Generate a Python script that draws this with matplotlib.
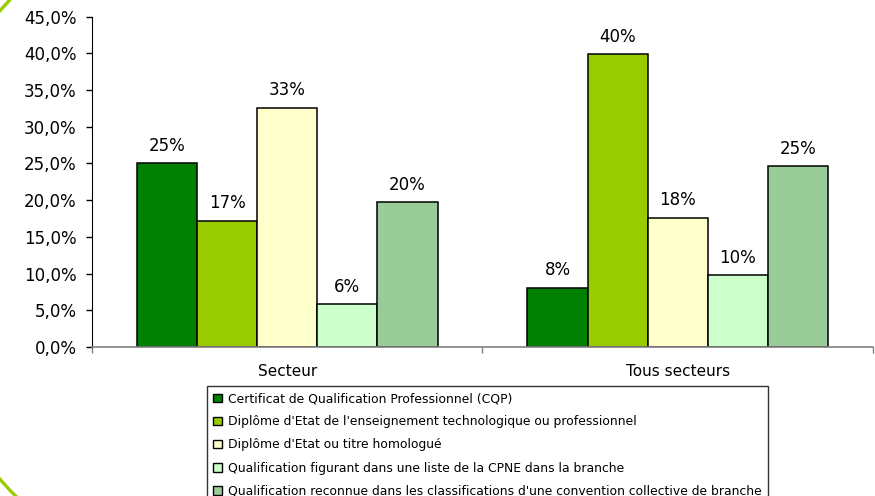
import matplotlib.pyplot as plt
import numpy as np
from matplotlib.patches import Arc, Patch

plt.rcParams.update({'font.family': 'DejaVu Sans', 'font.size': 12})

categories = ['Secteur', 'Tous secteurs']
series = [
    'Certificat de Qualification Professionnel (CQP)',
    "Diplôme d'Etat de l'enseignement technologique ou professionnel",
    "Diplôme d'Etat ou titre homologué",
    'Qualification figurant dans une liste de la CPNE dans la branche',
    "Qualification reconnue dans les classifications d'une convention collective de branche",
]
secteur = [25.0, 17.2, 32.6, 5.8, 19.7]
tous_secteurs = [8.1, 39.9, 17.6, 9.8, 24.6]
colors = ['#008000', '#99cc00', '#ffffcc', '#ccffcc', '#99cc99']
y_ticks = [0, 5, 10, 15, 20, 25, 30, 35, 40, 45]


def pct_label(v, decimals=0):
    return f'{v:.{decimals}f}%'.replace('.', ',')


fig = plt.figure(figsize=(8.75, 4.96), dpi=100)

# decorative green arc along the left edge of the slide
bg = fig.add_axes([0, 0, 1, 1], zorder=-1)
bg.set_xlim(0, 875)
bg.set_ylim(496, 0)
bg.axis('off')
bg.add_patch(Arc((268, 245), 712, 712, theta1=128, theta2=232,
                 color='#99cc00', lw=2.4))

ax = fig.add_axes([0.1051, 0.3004, 0.8926, 0.666])

values = np.array([secteur, tous_secteurs])
n = len(series)
group_w = 0.77
bar_w = group_w / n
x = np.arange(len(categories))
for i, name in enumerate(series):
    pos = x - group_w / 2 + bar_w * (i + 0.5)
    bars = ax.bar(pos, values[:, i], bar_w, color=colors[i],
                  edgecolor='black', linewidth=1.1, label=name)
    ax.bar_label(bars, labels=[pct_label(v) for v in values[:, i]],
                 padding=6, fontsize=12)

ax.set_xlim(-0.5, len(categories) - 0.5)
ax.set_ylim(0, 45)
ax.set_yticks(y_ticks)
ax.set_yticklabels([pct_label(t, 1) for t in y_ticks])
ax.tick_params(axis='y', length=4, width=1, color='black', pad=7)

# tick marks sit on category boundaries, labels in the middle
ax.set_xticks(np.arange(-0.5, len(categories)))
ax.set_xticklabels([])
ax.set_xticks(x, minor=True)
ax.set_xticklabels(categories, minor=True, fontsize=11)
ax.tick_params(axis='x', which='major', length=4, width=1, color='#808080')
ax.tick_params(axis='x', which='minor', length=0, pad=12)

for side in ['top', 'right']:
    ax.spines[side].set_visible(False)
ax.spines['left'].set_color('black')
ax.spines['bottom'].set_color('#808080')
ax.spines['bottom'].set_linewidth(1.2)

handles = [Patch(facecolor=c, edgecolor='black', linewidth=1) for c in colors]
leg = fig.legend(handles, series, loc='upper left',
                 bbox_to_anchor=(207 / 875, 1 - 386 / 496),
                 fontsize=8.9, frameon=True, fancybox=False, borderaxespad=0,
                 handlelength=0.7, handleheight=0.7, handletextpad=0.5,
                 labelspacing=0.82, borderpad=0.5)
leg.get_frame().set_edgecolor('black')
leg.get_frame().set_linewidth(1)

fig.savefig('out.png', dpi=100)
